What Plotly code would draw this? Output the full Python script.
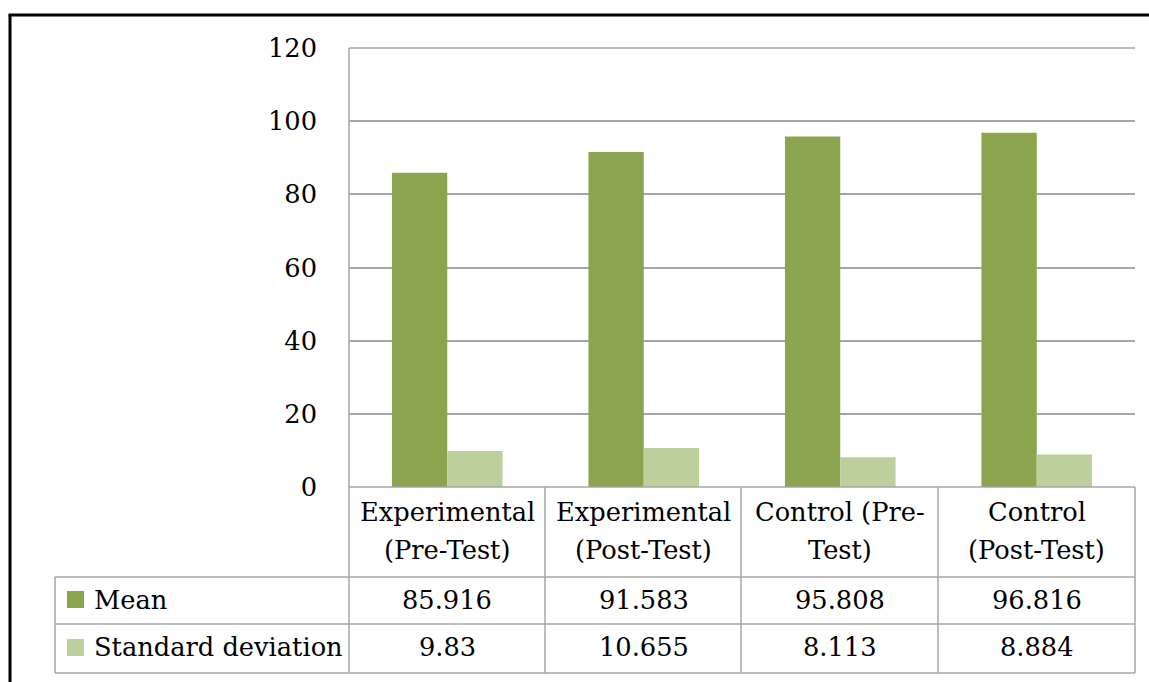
import plotly.graph_objects as go

categories = ["Experimental (Pre-Test)", "Experimental (Post-Test)", "Control (Pre-Test)", "Control (Post-Test)"]
category_labels = ["Experimental<br>(Pre-Test)", "Experimental<br>(Post-Test)", "Control (Pre-<br>Test)", "Control<br>(Post-Test)"]
mean_values = [85.916, 91.583, 95.808, 96.816]
sd_values = [9.83, 10.655, 8.113, 8.884]
mean_text = ["85.916", "91.583", "95.808", "96.816"]
sd_text = ["9.83", "10.655", "8.113", "8.884"]
series_names = ["Mean", "Standard deviation"]
y_ticks = [0, 20, 40, 60, 80, 100, 120]

W, H = 1149, 682
FONT = "DejaVu Serif"
FS = 25.7
C_MEAN = "#8AA54E"
C_SD = "#BBD09A"
GRID = "#A6A6A6"

def px(x):
    return x / W

def py(y):
    return 1 - y / H

fig = go.Figure()
fig.add_trace(go.Bar(x=categories, y=mean_values, name=series_names[0], marker=dict(color=C_MEAN, line=dict(width=0))))
fig.add_trace(go.Bar(x=categories, y=sd_values, name=series_names[1], marker=dict(color=C_SD, line=dict(width=0))))

plot_l, plot_r, plot_t, plot_b = 349, 1135, 48, 487
row1, row2, row3 = 577, 624, 673
table_l = 55
col_edges = [349, 545, 741, 938, 1135]

shapes = []
def line(x0, y0, x1, y1, color=GRID, width=1.5, layer="above"):
    shapes.append(dict(type="line", xref="paper", yref="paper", x0=px(x0), y0=py(y0), x1=px(x1), y1=py(y1),
                       line=dict(color=color, width=width), layer=layer))

# gridlines at the range edges (top and bottom of plot area)
line(plot_l, plot_t, plot_r, plot_t, layer="below")
line(plot_l, plot_b, plot_r, plot_b)
# plot left border
line(plot_l, plot_t, plot_l, row3)
# table lines
for yy in [row1, row2, row3]:
    line(table_l, yy, plot_r, yy)
line(table_l, row1, table_l, row3)
for xx in col_edges[1:]:
    line(xx, plot_b, xx, row3)
# outer frame
line(10, 15, 10, H + 5, color="#000000", width=3)
line(8.5, 15, W + 5, 15, color="#000000", width=3)

# legend keys
for c, yc in [(C_MEAN, 600), (C_SD, 648)]:
    shapes.append(dict(type="rect", xref="paper", yref="paper", x0=px(67), x1=px(84), y0=py(yc - 9), y1=py(yc + 8),
                       fillcolor=c, line=dict(width=0)))

tf = dict(family=FONT, size=FS, color="#000")
annotations = []
for i, cat in enumerate(categories):
    parts = category_labels[i].split("<br>")
    for part, yc in zip(parts, [512, 550]):
        annotations.append(dict(x=cat, xref="x", y=py(yc), yref="paper", text=part, showarrow=False,
                                xanchor="center", yanchor="middle", font=tf))
    annotations.append(dict(x=cat, xref="x", y=py(600), yref="paper", text=mean_text[i], showarrow=False,
                            xanchor="center", yanchor="middle", font=tf))
    annotations.append(dict(x=cat, xref="x", y=py(647), yref="paper", text=sd_text[i], showarrow=False,
                            xanchor="center", yanchor="middle", font=tf))
for name, yc in zip(series_names, [600, 647]):
    annotations.append(dict(x=px(92), xref="paper", y=py(yc), yref="paper", text=name, showarrow=False,
                            xanchor="left", yanchor="middle", font=tf))

fig.update_layout(
    width=W, height=H,
    margin=dict(l=0, r=0, t=0, b=0, pad=0),
    paper_bgcolor="white", plot_bgcolor="white",
    barmode="group", bargap=0.437, bargroupgap=0,
    showlegend=False,
    font=tf,
    xaxis=dict(domain=[px(plot_l), px(plot_r)], showticklabels=False, showgrid=False, zeroline=False,
               showline=False, ticks="", automargin=False),
    yaxis=dict(domain=[py(plot_b), py(plot_t)], range=[0, 120], tickvals=y_ticks, showgrid=True,
               gridcolor=GRID, gridwidth=1.5, zeroline=False, showline=False, ticks="",
               ticklabelstandoff=31, tickfont=tf, automargin=False),
    shapes=shapes,
    annotations=annotations,
)

fig.write_html("out.html", config={"displayModeBar": False},
               post_script="document.body.style.margin='0px';")
